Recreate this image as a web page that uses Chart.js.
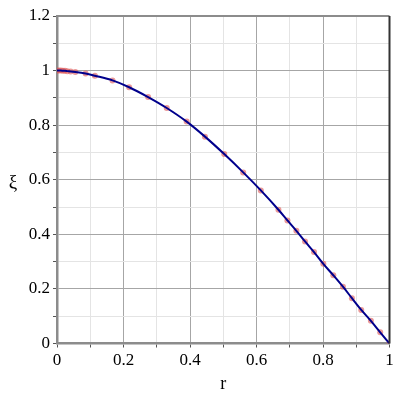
<!DOCTYPE html>
<html>
<head>
<meta charset="utf-8">
<script src="https://cdn.jsdelivr.net/npm/chart.js@4.4.0/dist/chart.umd.min.js"></script>
<style>
  body { margin: 0; background: #fff; }
  canvas { display: block; }
</style>
</head>
<body>
<canvas id="myChart" width="400" height="400"></canvas>
<script>
// data
var rVals = [0, 0.006, 0.012, 0.018, 0.024, 0.031, 0.041, 0.055, 0.086, 0.114, 0.167, 0.217,
  0.274, 0.330, 0.390, 0.445, 0.503, 0.560, 0.613, 0.666, 0.693, 0.720, 0.746, 0.773,
  0.801, 0.831, 0.860, 0.887, 0.915, 0.944, 0.972, 1.0];
var xiVals = [1.0, 1.0, 1.0, 0.999, 0.999, 0.998, 0.997, 0.995, 0.989, 0.981, 0.964, 0.939,
  0.903, 0.863, 0.813, 0.758, 0.694, 0.627, 0.561, 0.490, 0.451, 0.413, 0.374, 0.335,
  0.292, 0.250, 0.208, 0.166, 0.123, 0.083, 0.041, 0.0];
var xTickLabels = ["0", "0.2", "0.4", "0.6", "0.8", "1"];
var yTickLabels = ["0", "0.2", "0.4", "0.6", "0.8", "1", "1.2"];

var points = [];
for (let i = 0; i < rVals.length; i++) {
  points.push({ x: rVals[i], y: xiVals[i] });
}

var serif = '"Liberation Serif", "DejaVu Serif", serif';

function isMajor(v) {
  return Math.round(v * 10) % 2 === 0;
}
function gridColor(ctx) {
  if (!ctx.tick) return "#e4e4e4";
  return isMajor(ctx.tick.value) ? "#a6a6a6" : "#e4e4e4";
}
function tickLabel(labels) {
  return function (value) {
    var k = Math.round(value * 10);
    if (k % 2 !== 0) return "";
    return labels[k / 2];
  };
}

// frame on top / right and the unrotated y title
var framePlugin = {
  id: "frame",
  afterDraw: function (chart) {
    var c = chart.ctx;
    var a = chart.chartArea;
    c.save();
    c.strokeStyle = "#8c8c8c";
    c.lineWidth = 2;
    c.beginPath();
    c.moveTo(a.left, a.top);
    c.lineTo(a.right, a.top);
    c.stroke();
    c.strokeStyle = "#333";
    c.beginPath();
    c.moveTo(a.right, a.top);
    c.lineTo(a.right, a.bottom);
    c.stroke();
    c.fillStyle = "#000";
    c.font = "19px " + serif;
    c.textAlign = "center";
    c.textBaseline = "middle";
    c.fillText("ξ", 13, 183);
    c.restore();
  },
};

var chart = new Chart(document.getElementById("myChart").getContext("2d"), {
  type: "scatter",
  data: {
    datasets: [
      {
        label: "curve",
        data: points,
        showLine: true,
        pointRadius: 0,
        borderColor: "rgb(0,0,140)",
        borderWidth: 2,
        cubicInterpolationMode: "monotone",
        order: 0,
      },
      {
        label: "points",
        data: points,
        showLine: false,
        pointRadius: 3,
        pointBorderWidth: 0,
        pointBackgroundColor: "rgba(220,85,85,0.6)",
        order: 1,
      },
    ],
  },
  options: {
    responsive: false,
    animation: false,
    layout: { padding: { top: 16, right: 10.5, left: 0, bottom: 0 } },
    plugins: { legend: { display: false }, tooltip: { enabled: false } },
    scales: {
      x: {
        type: "linear",
        min: 0,
        max: 1,
        afterFit: function (s) { s.height = 56.5; },
        ticks: {
          stepSize: 0.1,
          autoSkip: false,
          maxRotation: 0,
          padding: 3,
          color: "#000",
          font: { family: serif, size: 17 },
          callback: tickLabel(xTickLabels),
        },
        grid: { color: gridColor, tickColor: "#555", tickLength: 4 },
        border: { color: "#8c8c8c", width: 2.5 },
        title: {
          display: true,
          text: "r",
          color: "#000",
          font: { family: serif, size: 18 },
          padding: { top: 0, bottom: 5 },
        },
      },
      y: {
        type: "linear",
        min: 0,
        max: 1.2,
        afterFit: function (s) { s.width = 57; },
        ticks: {
          stepSize: 0.1,
          autoSkip: false,
          padding: 3,
          color: "#000",
          font: { family: serif, size: 17 },
          callback: tickLabel(yTickLabels),
        },
        grid: { color: gridColor, tickColor: "#555", tickLength: 4 },
        border: { color: "#8c8c8c", width: 2.5 },
      },
    },
  },
  plugins: [framePlugin],
});
</script>
</body>
</html>
